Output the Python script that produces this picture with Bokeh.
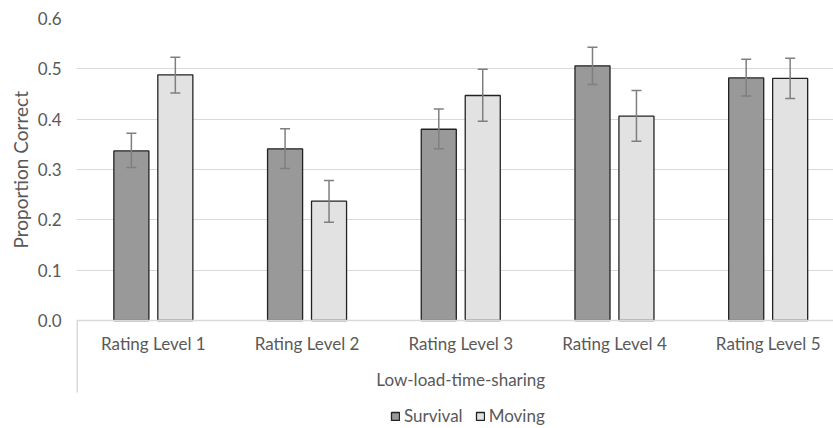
from bokeh.plotting import figure
from bokeh.models import (ColumnDataSource, FixedTicker, Whisker, TeeHead, Title,
                          Legend, LegendItem, NumeralTickFormatter)
from bokeh.core.properties import value
from bokeh.embed import file_html
from bokeh.resources import INLINE

group = "Low-load-time-sharing"
levels = ["Rating Level 1", "Rating Level 2", "Rating Level 3", "Rating Level 4", "Rating Level 5"]

survival = [0.337, 0.341, 0.380, 0.506, 0.482]
survival_lo = [0.304, 0.302, 0.341, 0.469, 0.446]
survival_hi = [0.372, 0.381, 0.420, 0.543, 0.519]

moving = [0.488, 0.237, 0.447, 0.406, 0.481]
moving_lo = [0.452, 0.195, 0.396, 0.356, 0.441]
moving_hi = [0.523, 0.278, 0.499, 0.457, 0.521]

y_ticks = [0.0, 0.1, 0.2, 0.3, 0.4, 0.5, 0.6]

FONT = "Lato"
TEXT = "#595959"
GRID = "#d9d9d9"
ERR = "#7f7f7f"

# geometry of the drawing area (pixels)
PX_PER_UNIT = 302 / 0.6          # vertical scale of the value axis
BELOW = 108                      # room under the zero line for labels and legend
y_min = -BELOW / PX_PER_UNIT

def px_down(px):
    """data-space y for a point `px` pixels below the zero line"""
    return -px / PX_PER_UNIT

# each category occupies one unit; the right end of the last slot runs past the canvas
centers = [i + 0.5 for i in range(len(levels))]
off = 0.143
bw = 0.228

src = ColumnDataSource(dict(
    xs=[c - off for c in centers], xm=[c + off for c in centers],
    surv=survival, surv_lo=survival_lo, surv_hi=survival_hi,
    mov=moving, mov_lo=moving_lo, mov_hi=moving_hi,
))

p = figure(
    x_range=(0, 4.925), y_range=(y_min, 0.6),
    frame_width=757, frame_height=302 + BELOW,
    min_border_left=76, min_border_right=0, min_border_top=18, min_border_bottom=0,
    x_axis_location=None,
    output_backend="svg", toolbar_location=None, outline_line_color=None,
)

r_s = p.vbar(x="xs", top="surv", width=bw, source=src,
             fill_color="#999999", line_color="#222222", line_width=1.3)
r_m = p.vbar(x="xm", top="mov", width=bw, source=src,
             fill_color="#e2e2e2", line_color="#222222", line_width=1.3)

for base, lo, hi in (("xs", "surv_lo", "surv_hi"), ("xm", "mov_lo", "mov_hi")):
    p.add_layout(Whisker(base=base, lower=lo, upper=hi, source=src, level="overlay",
                         line_color=ERR, line_width=1.5,
                         upper_head=TeeHead(size=10, line_color=ERR, line_width=1.5),
                         lower_head=TeeHead(size=10, line_color=ERR, line_width=1.5)))

# value axis
p.yaxis.ticker = FixedTicker(ticks=y_ticks)
p.yaxis.formatter = NumeralTickFormatter(format="0.0")
p.yaxis.axis_line_color = None
p.yaxis.major_tick_line_color = None
p.yaxis.minor_tick_line_color = None
p.yaxis.major_label_text_font = FONT
p.yaxis.major_label_text_font_size = "17px"
p.yaxis.major_label_text_color = TEXT
p.yaxis.major_label_standoff = 9

p.ygrid.grid_line_color = GRID
p.ygrid.grid_line_width = 1
p.xgrid.grid_line_color = None

# value-axis title, placed along the 0..0.6 span rather than the whole frame
p.add_layout(Title(text="Proportion Correct", align="left",
                   offset=BELOW + 72, standoff=6,
                   text_font=FONT, text_font_size="19px", text_font_style="normal",
                   text_color=TEXT), "left")

# category axis: zero line, rating levels, condition name and left rule
p.segment(x0=[0], y0=[0], x1=[centers[-1] + 1], y1=[0], line_color=GRID, line_width=1.5)
p.segment(x0=[0], y0=[0], x1=[0], y1=[px_down(72)], line_color=GRID, line_width=3)
p.text(x=centers, y=[px_down(23)] * len(levels), text=levels,
       text_font=value(FONT), text_font_size="17px", text_color=TEXT,
       text_align="center", text_baseline="middle")
p.text(x=[sum(centers) / len(centers)], y=[px_down(59)], text=[group],
       text_font=value(FONT), text_font_size="17px", text_color=TEXT,
       text_align="center", text_baseline="middle")

legend = Legend(items=[LegendItem(label="Survival", renderers=[r_s]),
                       LegendItem(label="Moving", renderers=[r_m])],
                orientation="horizontal", location=(314, 2),
                label_text_font=FONT, label_text_font_size="17px", label_text_color=TEXT,
                label_height=10, glyph_width=10, glyph_height=10, spacing=12, label_standoff=4,
                border_line_color=None, background_fill_alpha=0, padding=0, margin=0)
p.add_layout(legend)

open("out.html", "w").write(file_html(p, INLINE))
